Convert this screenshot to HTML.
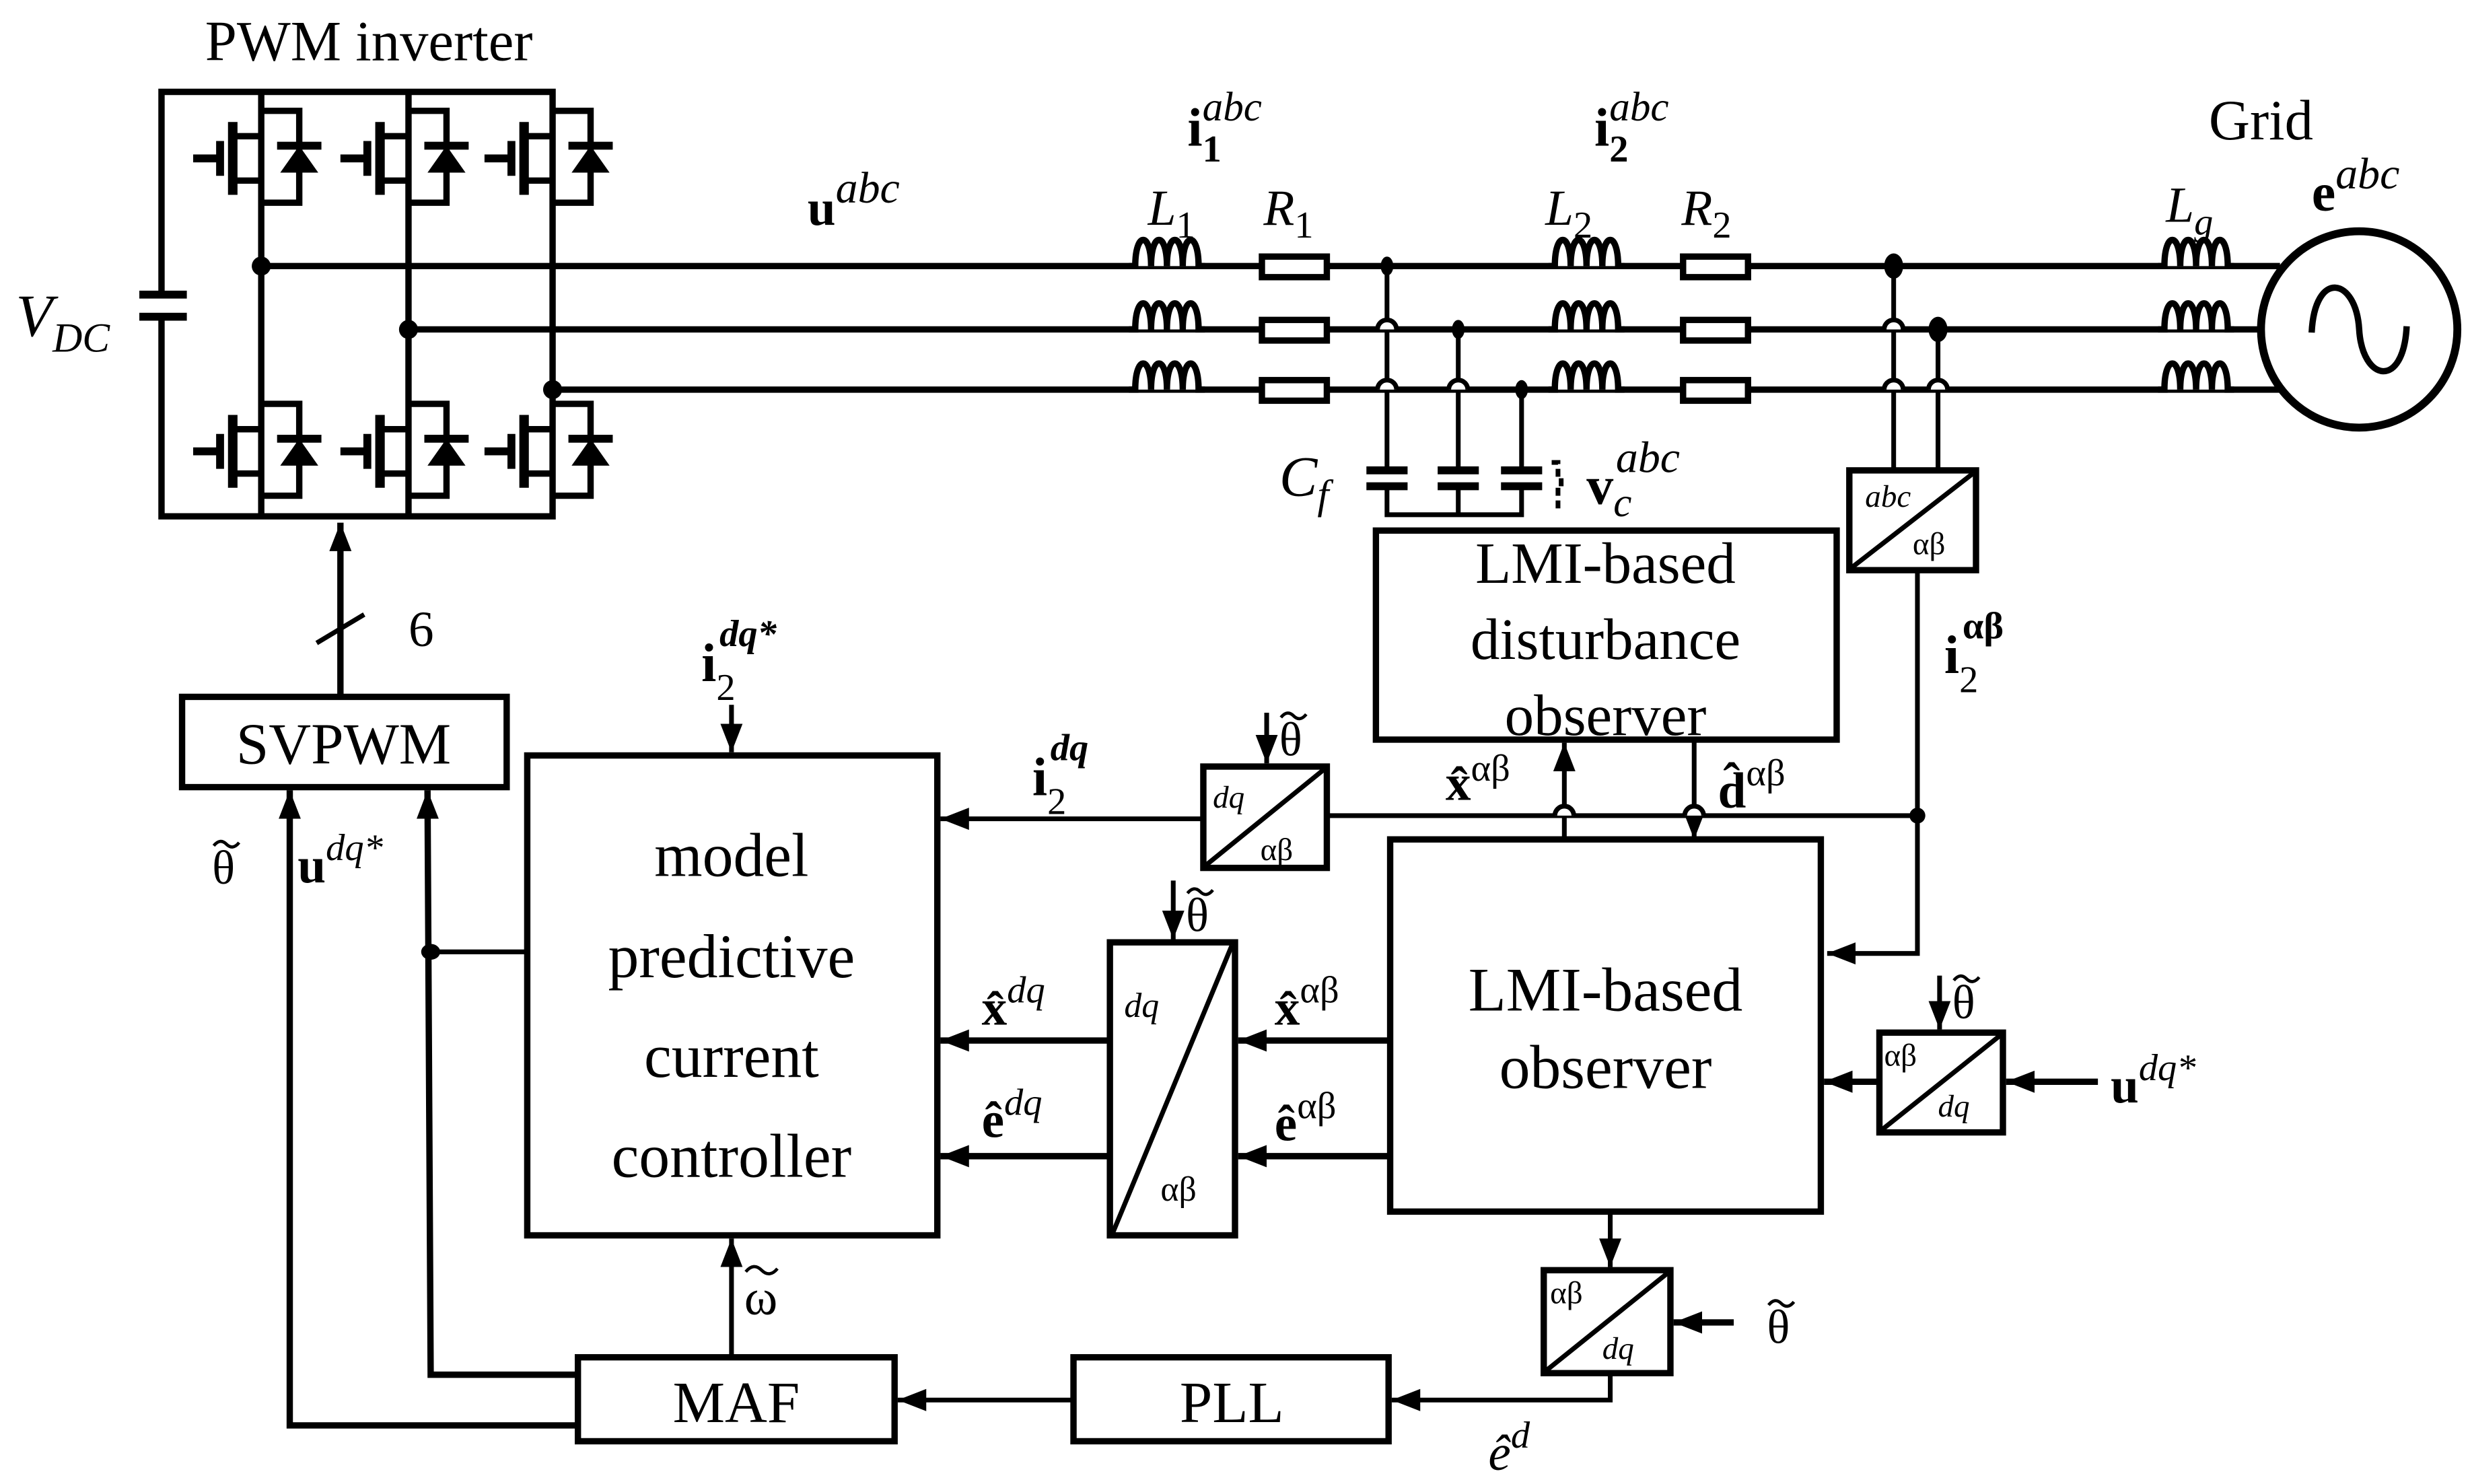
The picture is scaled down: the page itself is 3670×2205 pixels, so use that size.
<!DOCTYPE html>
<html><head><meta charset="utf-8"><style>
html,body{margin:0;padding:0;background:#fff;}
svg{display:block;}
text{font-family:"Liberation Serif","DejaVu Serif",serif;fill:#000;}
.b{font-weight:bold;}
.i{font-style:italic;}
</style></head><body>
<svg width="3670" height="2205" viewBox="0 0 1560 937" preserveAspectRatio="none" xmlns="http://www.w3.org/2000/svg">
<defs>
<marker id="ar" markerUnits="userSpaceOnUse" markerWidth="20" markerHeight="20" viewBox="0 0 20 20" refX="18" refY="10" orient="auto"><path d="M0,3 L18,10 L0,17 z" fill="#000"/></marker>
<g id="sw">
<line x1="-43" y1="0" x2="-26" y2="0" stroke="#000" stroke-width="5"/>
<line x1="-26" y1="-11" x2="-26" y2="11" stroke="#000" stroke-width="5"/>
<line x1="-18" y1="-23" x2="-18" y2="23" stroke="#000" stroke-width="6"/>
<polyline points="0,-14 -18,-14" fill="none" stroke="#000" stroke-width="4"/>
<polyline points="0,14 -18,14" fill="none" stroke="#000" stroke-width="4"/>
<polyline points="0,-30 24,-30 24,28 0,28" fill="none" stroke="#000" stroke-width="4"/>
<line x1="10" y1="-8" x2="38" y2="-8" stroke="#000" stroke-width="5"/>
<path d="M24,-8 L12,9 L36,9 z" fill="#000"/>
</g>
<path id="ind" d="M0,0 h4 c0,-22 10,-22 10,0 c0,-22 10,-22 10,0 c0,-22 10,-22 10,0 c0,-22 10,-22 10,0 h4" fill="#fff" stroke="#000" stroke-width="4"/>
<g id="th"><text x="0" y="0" font-size="30">θ</text><path d="M1,-24 q4,-5 8,-1 q4,4 8,-1" fill="none" stroke="#000" stroke-width="2"/></g>
</defs>
<rect width="1560" height="937" fill="#fff"/>
<g stroke="#000" fill="none" stroke-width="4">
<polyline points="102,185 102,58 349,58 349,326 102,326 102,200"/>
<line x1="88" y1="186" x2="118" y2="186" stroke-width="5"/>
<line x1="88" y1="200" x2="118" y2="200" stroke-width="5"/>
<line x1="165" y1="58" x2="165" y2="326"/>
<line x1="258" y1="58" x2="258" y2="326"/>
<line x1="165" y1="168" x2="1440" y2="168"/>
<line x1="258" y1="208" x2="1430" y2="208"/>
<line x1="349" y1="246" x2="1440" y2="246"/>
</g>
<use href="#sw" x="165" y="100"/><use href="#sw" x="258" y="100"/><use href="#sw" x="349" y="100"/>
<use href="#sw" x="165" y="285"/><use href="#sw" x="258" y="285"/><use href="#sw" x="349" y="285"/>
<g fill="#000"><circle cx="165" cy="168" r="6"/><circle cx="258" cy="208" r="6"/><circle cx="349" cy="246" r="6"/></g>
<use href="#ind" x="713" y="168"/><use href="#ind" x="713" y="208"/><use href="#ind" x="713" y="246"/>
<use href="#ind" x="978" y="168"/><use href="#ind" x="978" y="208"/><use href="#ind" x="978" y="246"/>
<use href="#ind" x="1363" y="168"/><use href="#ind" x="1363" y="208"/><use href="#ind" x="1363" y="246"/>
<g fill="#fff" stroke="#000" stroke-width="4">
<rect x="797" y="162" width="41" height="13"/><rect x="797" y="202" width="41" height="13"/><rect x="797" y="240" width="41" height="13"/>
<rect x="1063" y="162" width="41" height="13"/><rect x="1063" y="202" width="41" height="13"/><rect x="1063" y="240" width="41" height="13"/>
<circle cx="1490" cy="208" r="62" stroke-width="5"/>
</g>
<path d="M1460,210 C1462,170 1488,175 1490,208 C1492,241 1518,246 1520,206" fill="none" stroke="#000" stroke-width="4"/>
<g stroke="#000" fill="none" stroke-width="3">
<line x1="876" y1="168" x2="876" y2="296"/><line x1="921" y1="208" x2="921" y2="296"/><line x1="961" y1="246" x2="961" y2="296"/>
<polyline points="876,306 876,325 961,325 961,306"/><line x1="921" y1="306" x2="921" y2="325"/>
<line x1="1196" y1="168" x2="1196" y2="297"/><line x1="1224" y1="208" x2="1224" y2="297"/>
<path d="M870,208 A6,6 0 0 1 882,208 M870,246 A6,6 0 0 1 882,246 M915,246 A6,6 0 0 1 927,246 M1190,208 A6,6 0 0 1 1202,208 M1190,246 A6,6 0 0 1 1202,246 M1218,246 A6,6 0 0 1 1230,246" fill="#fff" stroke-width="3"/>
</g>
<g stroke="#000" stroke-width="5">
<line x1="863" y1="297" x2="889" y2="297"/><line x1="863" y1="307" x2="889" y2="307"/>
<line x1="908" y1="297" x2="934" y2="297"/><line x1="908" y1="307" x2="934" y2="307"/>
<line x1="948" y1="297" x2="974" y2="297"/><line x1="948" y1="307" x2="974" y2="307"/>
</g>
<path d="M980,292 h4 v10 h2 v6 h-2 v14" stroke="#000" stroke-width="3" fill="none" stroke-dasharray="5,3"/>
<g fill="#000"><ellipse cx="876" cy="168" rx="4" ry="6"/><ellipse cx="921" cy="208" rx="4" ry="6"/><ellipse cx="961" cy="246" rx="4" ry="6"/><ellipse cx="1196" cy="168" rx="6" ry="8"/><ellipse cx="1224" cy="208" rx="6" ry="8"/></g>
<g stroke="#000" fill="#fff" stroke-width="4">
<rect x="869" y="335" width="291" height="132"/>
<rect x="1168" y="297" width="80" height="63"/>
<rect x="115" y="440" width="205" height="57"/>
<rect x="333" y="477" width="259" height="303"/>
<rect x="760" y="484" width="78" height="64"/>
<rect x="701" y="595" width="79" height="185"/>
<rect x="878" y="530" width="272" height="235"/>
<rect x="1187" y="652" width="78" height="63"/>
<rect x="975" y="802" width="80" height="65"/>
<rect x="365" y="857" width="200" height="53"/>
<rect x="678" y="857" width="199" height="53"/>
</g>
<g stroke="#000" stroke-width="3">
<line x1="1246" y1="299" x2="1170" y2="358"/>
<line x1="836" y1="486" x2="762" y2="546"/>
<line x1="778" y1="597" x2="703" y2="778"/>
<line x1="1263" y1="654" x2="1189" y2="713"/>
<line x1="1053" y1="804" x2="977" y2="865"/>
</g>
<g stroke="#000" stroke-width="4" fill="none">
<line x1="215" y1="440" x2="215" y2="330" marker-end="url(#ar)"/>
<line x1="200" y1="406" x2="230" y2="388" stroke-width="3"/>
<line x1="462" y1="445" x2="462" y2="475" marker-end="url(#ar)" stroke-width="3"/>
<polyline points="1211,360 1211,602 1154,602" marker-end="url(#ar)" stroke-width="3"/>
<line x1="1211" y1="515" x2="838" y2="515" stroke-width="3"/>
<line x1="760" y1="517" x2="594" y2="517" marker-end="url(#ar)" stroke-width="3"/>
<line x1="800" y1="450" x2="800" y2="482" marker-end="url(#ar)" stroke-width="3"/>
<line x1="741" y1="556" x2="741" y2="593" marker-end="url(#ar)" stroke-width="3"/>
<line x1="878" y1="657" x2="782" y2="657" marker-end="url(#ar)"/>
<line x1="878" y1="730" x2="782" y2="730" marker-end="url(#ar)"/>
<line x1="701" y1="657" x2="594" y2="657" marker-end="url(#ar)"/>
<line x1="701" y1="730" x2="594" y2="730" marker-end="url(#ar)"/>
<line x1="988" y1="530" x2="988" y2="469" marker-end="url(#ar)" stroke-width="3"/>
<line x1="1070" y1="467" x2="1070" y2="530" marker-end="url(#ar)" stroke-width="3"/>
<path d="M982,515 A6,6 0 0 1 994,515 M1064,515 A6,6 0 0 1 1076,515" fill="#fff" stroke-width="3"/>
<line x1="1225" y1="616" x2="1225" y2="650" marker-end="url(#ar)" stroke-width="3"/>
<line x1="1325" y1="683" x2="1267" y2="683" marker-end="url(#ar)"/>
<line x1="1187" y1="683" x2="1152" y2="683" marker-end="url(#ar)"/>
<line x1="1017" y1="765" x2="1017" y2="800" marker-end="url(#ar)" stroke-width="3"/>
<line x1="1095" y1="835" x2="1057" y2="835" marker-end="url(#ar)"/>
<polyline points="1017,867 1017,884 879,884" marker-end="url(#ar)" stroke-width="3"/>
<line x1="678" y1="884" x2="567" y2="884" marker-end="url(#ar)" stroke-width="3"/>
<line x1="462" y1="857" x2="462" y2="782" marker-end="url(#ar)" stroke-width="3"/>
<polyline points="365,868 272,868 270,499" marker-end="url(#ar)"/>
<line x1="272" y1="601" x2="333" y2="601" stroke-width="3"/>
<polyline points="365,900 183,900 183,499" marker-end="url(#ar)"/>
</g>
<g fill="#000"><circle cx="1211" cy="515" r="5"/><ellipse cx="272" cy="601" rx="6" ry="5"/></g>
<text x="233" y="38" font-size="36" text-anchor="middle">PWM inverter</text>
<text x="10" y="212" font-size="38" class="i">V<tspan font-size="26" dy="10">DC</tspan></text>
<text x="510" y="142" font-size="32" class="b">u<tspan class="i" font-weight="normal" font-size="28" dy="-14">abc</tspan></text>
<text x="750" y="92" font-size="34" class="b">i<tspan font-size="24" dy="10">1</tspan><tspan class="i" font-weight="normal" font-size="26" dx="-12" dy="-26">abc</tspan></text>
<text x="1007" y="92" font-size="34" class="b">i<tspan font-size="24" dy="10">2</tspan><tspan class="i" font-weight="normal" font-size="26" dx="-12" dy="-26">abc</tspan></text>
<text x="1395" y="88" font-size="36">Grid</text>
<text x="1460" y="133" font-size="34" class="b">e<tspan class="i" font-weight="normal" font-size="28" dy="-14">abc</tspan></text>
<text x="725" y="142" font-size="32" class="i">L<tspan font-size="24" font-style="normal" dy="8">1</tspan></text>
<text x="798" y="142" font-size="32" class="i">R<tspan font-size="24" font-style="normal" dy="8">1</tspan></text>
<text x="976" y="142" font-size="32" class="i">L<tspan font-size="24" font-style="normal" dy="8">2</tspan></text>
<text x="1062" y="142" font-size="32" class="i">R<tspan font-size="24" font-style="normal" dy="8">2</tspan></text>
<text x="1368" y="140" font-size="32" class="i">L<tspan font-size="24" dy="8">g</tspan></text>
<text x="808" y="313" font-size="36" class="i">C<tspan font-size="26" dy="8">f</tspan></text>
<text x="1002" y="318" font-size="34" class="b">v<tspan class="i" font-weight="normal" font-size="26" dy="8">c</tspan><tspan class="i" font-weight="normal" font-size="28" dx="-10" dy="-28">abc</tspan></text>
<text x="1178" y="320" font-size="20" class="i">abc</text>
<text x="1208" y="350" font-size="20">αβ</text>
<text x="1014" y="368" font-size="37" text-anchor="middle">LMI-based</text>
<text x="1014" y="416" font-size="37" text-anchor="middle">disturbance</text>
<text x="1014" y="464" font-size="37" text-anchor="middle">observer</text>
<text x="1228" y="425" font-size="34" class="b">i<tspan font-size="24" font-weight="normal" dy="12">2</tspan><tspan font-size="24" dx="-10" dy="-34">αβ</tspan></text>
<text x="258" y="408" font-size="32">6</text>
<text x="217" y="482" font-size="37" text-anchor="middle">SVPWM</text>
<text x="443" y="430" font-size="34" class="b">i<tspan font-size="24" font-weight="normal" dy="12">2</tspan><tspan class="i" font-size="24" dx="-10" dy="-34">dq*</tspan></text>
<text x="462" y="553" font-size="39" text-anchor="middle">model</text>
<text x="462" y="617" font-size="39" text-anchor="middle">predictive</text>
<text x="462" y="680" font-size="39" text-anchor="middle">current</text>
<text x="462" y="743" font-size="39" text-anchor="middle">controller</text>
<text x="652" y="502" font-size="34" class="b">i<tspan font-size="24" font-weight="normal" dy="12">2</tspan><tspan class="i" font-size="24" dx="-10" dy="-34">dq</tspan></text>
<use href="#th" x="808" y="477"/>
<text x="766" y="510" font-size="20" class="i">dq</text>
<text x="796" y="543" font-size="20">αβ</text>
<text x="913" y="505" font-size="32" class="b">x̂<tspan font-size="24" font-weight="normal" dy="-12">αβ</tspan></text>
<text x="1085" y="510" font-size="32" class="b">d̂<tspan font-size="24" font-weight="normal" dy="-14">αβ</tspan></text>
<use href="#th" x="749" y="588"/>
<text x="710" y="642" font-size="22" class="i">dq</text>
<text x="733" y="758" font-size="22">αβ</text>
<text x="620" y="647" font-size="32" class="b">x̂<tspan class="i" font-size="24" font-weight="normal" dy="-14">dq</tspan></text>
<text x="620" y="718" font-size="32" class="b">ê<tspan class="i" font-size="24" font-weight="normal" dy="-14">dq</tspan></text>
<text x="805" y="647" font-size="32" class="b">x̂<tspan font-size="24" font-weight="normal" dy="-14">αβ</tspan></text>
<text x="805" y="720" font-size="32" class="b">ê<tspan font-size="24" font-weight="normal" dy="-14">αβ</tspan></text>
<text x="1014" y="638" font-size="39" text-anchor="middle">LMI-based</text>
<text x="1014" y="687" font-size="39" text-anchor="middle">observer</text>
<use href="#th" x="1233" y="643"/>
<text x="1190" y="673" font-size="20">αβ</text>
<text x="1224" y="705" font-size="20" class="i">dq</text>
<text x="1333" y="696" font-size="32" class="b">u<tspan class="i" font-size="24" font-weight="normal" dy="-14">dq*</tspan></text>
<text x="979" y="823" font-size="20">αβ</text>
<text x="1012" y="858" font-size="20" class="i">dq</text>
<use href="#th" x="1116" y="848"/>
<g><text x="470" y="830" font-size="32">ω</text><path d="M471,803 q5,-6 10,-1 q5,5 10,-1" fill="none" stroke="#000" stroke-width="2"/></g>
<text x="465" y="898" font-size="37" text-anchor="middle">MAF</text>
<text x="778" y="898" font-size="37" text-anchor="middle">PLL</text>
<text x="940" y="928" font-size="32" class="i">ê<tspan font-size="24" dy="-14">d</tspan></text>
<use href="#th" x="134" y="558"/>
<text x="188" y="557" font-size="32" class="b">u<tspan class="i" font-size="24" font-weight="normal" dy="-14">dq*</tspan></text>
</svg>
</body></html>
